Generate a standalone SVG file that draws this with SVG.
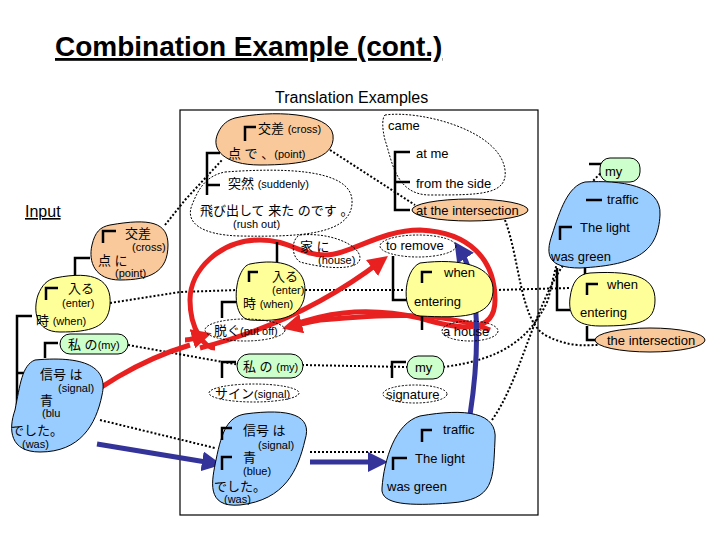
<svg xmlns="http://www.w3.org/2000/svg" width="720" height="540" viewBox="0 0 720 540">
<defs>
<style>
text{font-family:"Liberation Sans","Noto Sans CJK JP",sans-serif;font-size:13px;fill:#000}
.s{font-size:11px}
.or{fill:#F9C89B;stroke:#000;stroke-width:1}
.ye{fill:#FFFF99;stroke:#000;stroke-width:1}
.gr{fill:#CCFFCC;stroke:#000;stroke-width:1}
.bl{fill:#99CCFF;stroke:#000;stroke-width:1}
.wd{fill:none;stroke:#000;stroke-width:1;stroke-dasharray:2 1.5}
.br{fill:none;stroke:#000;stroke-width:2.5}
.dot{fill:none;stroke:#000;stroke-width:2;stroke-dasharray:2 2}
.red{fill:none;stroke:#E82020;stroke-width:5}
.blu{fill:none;stroke:#333399;stroke-width:5}
</style>
<marker id="ra" markerWidth="4" markerHeight="4" refX="2" refY="2" orient="auto"><path d="M0,0L4,2L0,4z" fill="#E82020"/></marker>
<marker id="ba" markerWidth="4" markerHeight="4" refX="2" refY="2" orient="auto"><path d="M0,0L4,2L0,4z" fill="#333399"/></marker>
</defs>
<rect width="720" height="540" fill="#fff"/>
<text x="55" y="56" style="font-size:28px;font-weight:bold;text-decoration:underline">Combination Example (cont.)</text>
<text x="275" y="103" style="font-size:16px">Translation Examples</text>
<text x="25" y="217" style="font-size:16px;text-decoration:underline">Input</text>
<rect x="180" y="110" width="358" height="405" fill="none" stroke="#000" stroke-width="1.2"/>

<g id="connectors">
<path class="dot" d="M165,225 L185,200 L222,160"/>
<path class="dot" d="M330,150 L415,205"/>
<path class="dot" d="M110,303 L180,292 L238,290 M305,290 L405,290 M495,290 L570,288"/>
<path class="dot" d="M128,345 L240,365 M302,365 L407,367"/>
<path class="dot" d="M100,420 L215,448 M310,452 L385,452"/>
<path class="dot" d="M443,367 C500,360 530,340 548,300 C560,250 570,200 602,172"/>
<path class="dot" d="M505,220 C520,260 520,320 545,335 C570,348 585,345 598,345"/>
<path class="dot" d="M492,420 C520,380 530,320 560,270 C570,255 575,250 580,245"/>
<path class="red" d="M290,326 C320,315 360,305 420,318 C460,330 495,335 495,300 C495,260 470,232 420,230 C380,230 350,255 325,255 C300,255 290,240 260,240 C220,240 190,270 190,300 C190,330 205,348 215,348"/>
<path class="red" d="M490,330 C440,310 380,315 320,320 C310,322 300,324 292,326" marker-end="url(#ra)"/>
<path class="red" d="M200,348 C270,330 330,300 380,262" marker-end="url(#ra)"/>
<path class="red" d="M185,340 C190,340 195,338 202,336" marker-end="url(#ra)"/>
<path class="red" d="M190,345 C140,360 90,390 62,420" marker-end="url(#ra)"/>
<path class="blu" d="M470,415 C480,350 480,280 460,250" marker-end="url(#ba)"/>
<path class="blu" d="M97,444 L212,463" marker-end="url(#ba)"/>
<path class="blu" d="M310,462 L378,462" marker-end="url(#ba)"/>
</g>

<g id="top-jp">
<path class="or" d="M235,118 C270,110 330,112 333,135 C336,160 300,165 260,165 C225,165 210,150 218,133 C222,124 228,120 235,118z"/>
<path class="br" d="M245,141 V127 H256"/>
<text x="258" y="133">交差 <tspan class="s">(cross)</tspan></text>
<text x="228" y="158">点 で 、<tspan class="s">(point)</tspan></text>
<path class="br" d="M220,153 H207 V195 M207,185 H220"/>
<path class="wd" d="M225,172 C280,168 350,168 352,200 C354,235 300,237 240,236 C200,235 185,222 192,205 C198,190 205,176 225,172z"/>
<text x="228" y="188">突然 <tspan class="s">(suddenly)</tspan></text>
<text x="200" y="215">飛び出して 来た のです 。</text>
<text x="233" y="228" class="s">(rush out)</text>
</g>
<g id="top-en">
<path class="wd" d="M385,115 C420,110 500,130 505,170 C508,195 480,195 430,195 C395,195 392,160 385,140 C382,128 382,118 385,115z"/>
<text x="388" y="130">came</text>
<path class="br" d="M410,152 H395 V210 H410 M395,182 H410"/>
<text x="416" y="158">at me</text>
<text x="416" y="188">from the side</text>
<ellipse class="or" cx="470" cy="210" rx="58" ry="11"/>
<text x="416" y="215">at the intersection</text>
</g>
<g id="mid-jp">
<path class="wd" d="M300,235 C330,232 360,245 360,258 C360,270 330,270 300,262 C290,255 292,238 300,235z"/>
<text x="300" y="251">家 に</text>
<text x="318" y="264" class="s">(house)</text>
<path class="br" d="M277,242 V262"/>
<path class="ye" d="M250,264 C280,258 305,265 305,290 C305,318 280,322 250,320 C232,318 235,285 240,275 C243,268 246,265 250,264z"/>
<path class="br" d="M249,282 V272 H258"/>
<text x="272" y="281">入る</text>
<text x="272" y="294" class="s">(enter)</text>
<text x="243" y="308">時 <tspan class="s">(when)</tspan></text>
<path class="br" d="M222,318 V302 H236"/>
<ellipse class="wd" cx="245" cy="330" rx="40" ry="11"/>
<text x="214" y="335">脱ぐ<tspan class="s">(put off)</tspan></text>
</g>
<g id="mid-en">
<ellipse class="wd" cx="418" cy="246" rx="38" ry="11"/>
<text x="386" y="250">to remove</text>
<path class="br" d="M393,256 V300 H408"/>
<path class="ye" d="M420,263 C460,258 495,265 493,292 C491,318 460,318 420,316 C400,315 403,270 420,263z"/>
<path class="br" d="M422,283 V272 H432"/>
<text x="444" y="277">when</text>
<text x="414" y="306">entering</text>
<path class="br" d="M422,316 V330"/>
<ellipse class="wd" cx="470" cy="331" rx="28" ry="10"/>
<text x="443" y="336">a house</text>
</g>
<g id="mid-low">
<path class="br" d="M222,378 V362 H236"/>
<rect class="gr" x="237" y="354" width="66" height="24" rx="12"/>
<text x="243" y="371">私 の <tspan class="s">(my)</tspan></text>
<ellipse class="wd" cx="254" cy="393" rx="45" ry="9"/>
<text x="215" y="398">サイン<tspan class="s">(signal)</tspan></text>
<path class="br" d="M392,378 V362 H406"/>
<rect class="gr" x="407" y="356" width="37" height="23" rx="11"/>
<text x="415" y="372">my</text>
<ellipse class="wd" cx="415" cy="394" rx="32" ry="9"/>
<text x="386" y="399">signature</text>
</g>
<g id="mid-blue-jp">
<path class="bl" d="M245,414 C290,408 313,415 305,440 C298,470 285,500 240,505 C205,508 212,480 216,460 C222,430 228,417 245,414z"/>
<path class="br" d="M222,440 V428 H232 M222,470 V457 H232"/>
<text x="243" y="435">信号 は</text>
<text x="258" y="449" class="s">(signal)</text>
<text x="243" y="462">青</text>
<text x="243" y="475" class="s">(blue)</text>
<text x="214" y="491">でした。</text>
<text x="224" y="503" class="s">(was)</text>
</g>
<g id="mid-blue-en">
<path class="bl" d="M420,416 C465,408 498,412 495,440 C493,480 495,500 450,503 C410,506 380,505 382,488 C384,460 395,423 420,416z"/>
<path class="br" d="M422,442 V430 H432 M393,470 V458 H407"/>
<text x="443" y="434">traffic</text>
<text x="415" y="463">The light</text>
<text x="387" y="491">was green</text>
</g>
<g id="in-cross">
<path class="or" d="M110,225 C150,218 168,222 168,245 C168,272 150,280 120,280 C95,280 88,262 92,245 C95,232 100,227 110,225z"/>
<path class="br" d="M103,243 V231 H116"/>
<text x="125" y="238">交差</text>
<text x="132" y="251" class="s">(cross)</text>
<text x="98" y="265">点 に</text>
<text x="115" y="277" class="s">(point)</text>
</g>
<g id="in-enter">
<path class="br" d="M90,258 H75 V278"/>
<path class="ye" d="M55,278 C95,270 112,280 110,305 C108,328 90,332 60,332 C35,332 33,310 38,295 C42,285 47,280 55,278z"/>
<path class="br" d="M46,300 V288 H58"/>
<text x="68" y="293">入る</text>
<text x="62" y="307" class="s">(enter)</text>
<text x="36" y="325">時 <tspan class="s">(when)</tspan></text>
<path class="br" d="M32,316 H17 V415 M17,373 H32 M17,401 H32"/>
</g>
<g id="in-my">
<path class="br" d="M58,343 H45 V358"/>
<rect class="gr" x="60" y="334" width="68" height="20" rx="10"/>
<text x="68" y="349">私 の<tspan class="s">(my)</tspan></text>
</g>
<g id="in-sig">
<path class="bl" d="M35,360 C90,355 108,370 102,395 C96,425 80,452 40,452 C10,452 8,430 15,410 C20,385 22,365 35,360z"/>
<text x="40" y="379">信号 は</text>
<text x="58" y="392" class="s">(signal)</text>
<text x="40" y="405">青</text>
<text x="42" y="417" class="s">(blu</text>
<text x="11" y="435">でした。</text>
<text x="22" y="448" class="s">(was)</text>
</g>
<g id="right">
<path class="br" d="M585,280 V225 H598 M585,188 H602 V200 M585,188 V225"/>
<path class="br" d="M589,164 H603"/>
<rect class="gr" x="600" y="158" width="40" height="24" rx="10"/>
<text x="605" y="176">my</text>
<path class="bl" d="M585,182 C620,180 662,185 660,215 C658,250 640,265 580,268 C548,268 545,255 552,235 C560,210 568,186 585,182z"/>
<path class="br" d="M586,200 H602"/>
<path class="br" d="M560,240 V227 H572"/>
<text x="607" y="204">traffic</text>
<text x="580" y="232">The light</text>
<text x="551" y="261">was green</text>
<path class="br" d="M557,268 V310 H570"/>
<path class="ye" d="M590,273 C640,270 655,280 655,300 C655,322 640,326 600,326 C575,326 568,315 570,298 C572,282 578,274 590,273z"/>
<path class="br" d="M587,295 V284 H598"/>
<text x="607" y="289">when</text>
<text x="580" y="317">entering</text>
<path class="br" d="M587,326 V340 H600"/>
<ellipse class="or" cx="650" cy="340" rx="55" ry="12"/>
<text x="607" y="345">the intersection</text>
</g>
</svg>
